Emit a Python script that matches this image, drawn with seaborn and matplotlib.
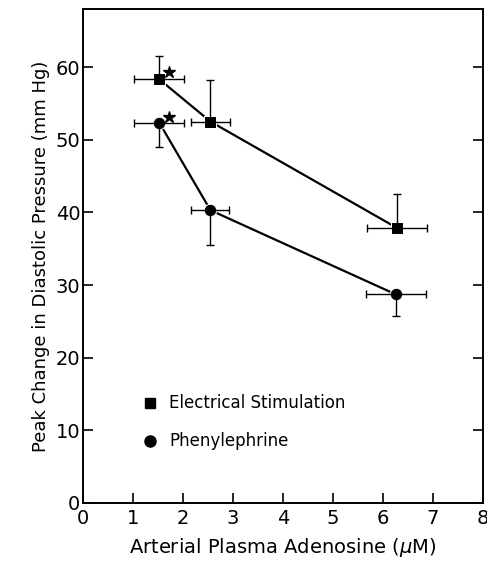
import numpy as np
import pandas as pd
import matplotlib
matplotlib.use("Agg")
import matplotlib.pyplot as plt
import seaborn as sns

# data
elec_x = [1.53, 2.55, 6.27]
elec_y = [58.3, 52.5, 37.9]
elec_yerr_up = [3.2, 5.7, 4.7]
elec_xerr = [0.5, 0.39, 0.6]

phen_x = [1.53, 2.55, 6.26]
phen_y = [52.3, 40.3, 28.7]
phen_yerr_down = [3.3, 4.8, 3.0]
phen_xerr = [0.5, 0.38, 0.6]

series_names = ["Electrical Stimulation", "Phenylephrine"]
x_ticks = [0, 1, 2, 3, 4, 5, 6, 7, 8]
y_ticks = [0, 10, 20, 30, 40, 50, 60]

sns.set_style("ticks")
plt.rcParams["font.family"] = ["DejaVu Sans"]
plt.rcParams["text.color"] = "black"
plt.rcParams["axes.labelcolor"] = "black"

fig = plt.figure(figsize=(4.87, 5.63), dpi=100)
ax = fig.add_axes([0.1704, 0.1066, 0.8214, 0.8774])

df = pd.concat([
    pd.DataFrame({"x": elec_x, "y": elec_y, "group": series_names[0]}),
    pd.DataFrame({"x": phen_x, "y": phen_y, "group": series_names[1]}),
])

sns.lineplot(data=df, x="x", y="y", hue="group", style="group",
             markers={series_names[0]: "s", series_names[1]: "o"},
             dashes=False, palette=["black", "black"], markersize=9,
             linewidth=1.6, legend=False, ax=ax)

# one-sided error bars as drawn in the original
ax.errorbar(elec_x, elec_y, xerr=elec_xerr,
            yerr=[np.zeros(len(elec_y)), elec_yerr_up],
            fmt="none", ecolor="black", elinewidth=1.0, capsize=3)
ax.errorbar(phen_x, phen_y, xerr=phen_xerr,
            yerr=[phen_yerr_down, np.zeros(len(phen_y))],
            fmt="none", ecolor="black", elinewidth=1.0, capsize=3)

# significance stars
ax.plot([elec_x[0] + 0.2], [elec_y[0] + 1.0], marker="*", color="black",
        markersize=9)
ax.plot([phen_x[0] + 0.2], [phen_y[0] + 0.9], marker="*", color="black",
        markersize=9)

# legend drawn as in the figure
ax.plot([1.34], [13.8], marker="s", color="black", markersize=7)
ax.plot([1.34], [8.5], marker="o", color="black", markersize=8)
ax.text(1.72, 13.8, series_names[0], fontsize=12, va="center")
ax.text(1.72, 8.5, series_names[1], fontsize=12, va="center")

ax.set_xlim(0, 8)
ax.set_ylim(0, 68)
ax.set_xticks(x_ticks)
ax.set_yticks(y_ticks)
ax.tick_params(axis="both", direction="in", length=7, width=1.2,
               labelsize=14, colors="black")
ax.tick_params(axis="y", right=True, pad=2)
ax.tick_params(axis="x", pad=4)
for sp in ax.spines.values():
    sp.set_visible(True)
    sp.set_linewidth(1.4)
    sp.set_color("black")

ax.set_xlabel("Arterial Plasma Adenosine ($\\mu$M)", fontsize=14, labelpad=6)
ax.set_ylabel("Peak Change in Diastolic Pressure (mm Hg)", fontsize=13)

fig.savefig("out.png", dpi=100)
